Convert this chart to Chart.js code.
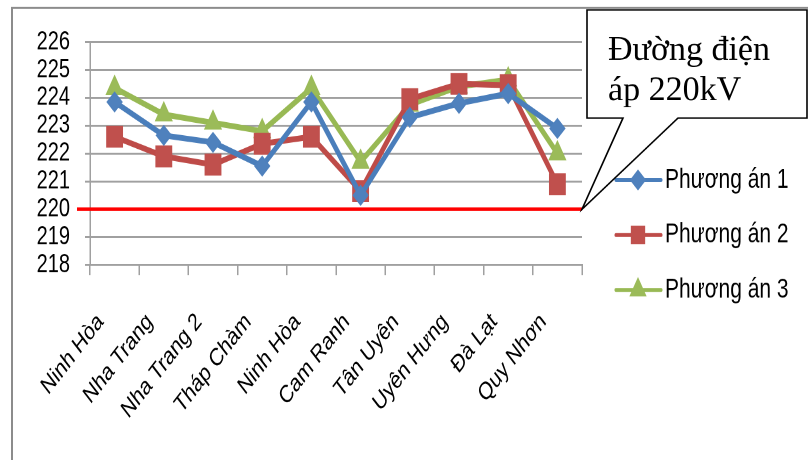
<!DOCTYPE html>
<html>
<head>
<meta charset="utf-8">
<script src="https://cdn.jsdelivr.net/npm/chart.js@4.4.1/dist/chart.umd.min.js"></script>
<style>
  html, body { margin: 0; padding: 0; background: #fff; overflow: hidden; }
  #wrap { width: 808px; height: 460px; position: relative; overflow: hidden; background: #fff; }
  #c { position: absolute; left: 0; top: 0; transform-origin: 0 0; }
</style>
</head>
<body>
<div id="wrap"><canvas id="c" width="808" height="354"></canvas></div>
<script>
// Substations along the line
const stations = ['Ninh Hòa', 'Nha Trang', 'Nha Trang 2', 'Tháp Chàm', 'Ninh Hòa',
                  'Cam Ranh', 'Tân Uyên', 'Uyên Hưng', 'Đà Lạt', 'Quy Nhơn'];

// Bus voltages (kV) for each option
const phuongAn1 = [223.85, 222.65, 222.4, 221.55, 223.85, 220.5, 223.3, 223.8, 224.15, 222.9];
const phuongAn2 = [222.6, 221.9, 221.6, 222.35, 222.6, 220.65, 223.95, 224.5, 224.45, 220.9];
const phuongAn3 = [224.35, 223.4, 223.1, 222.8, 224.35, 221.7, 223.75, 224.4, 224.65, 222.0];

const seriesNames = ['Phương án 1', 'Phương án 2', 'Phương án 3'];

// Nominal voltage line and y axis range
const REF_KV = 220;
const Y_MIN = 218;
const Y_MAX = 226;
const Y_STEP = 1;

// The drawing is rendered slightly compressed and stretched back vertically
const CANVAS_H = 354;
const FULL_H = 460;
const STRETCH = FULL_H / CANVAS_H;

const SANS = '"Liberation Sans", Arial, sans-serif';

// Outer frame of the figure
const framePlugin = {
  id: 'frame',
  beforeDraw(chart) {
    const ctx = chart.ctx;
    ctx.save();
    ctx.scale(1, 1 / STRETCH);
    ctx.strokeStyle = '#8c8c8c';
    ctx.lineWidth = 2;
    ctx.beginPath();
    ctx.moveTo(12, FULL_H + 10);
    ctx.lineTo(12, 8);
    ctx.lineTo(820, 8);
    ctx.stroke();
    ctx.restore();
  }
};

// Red 220 kV reference line
const refLinePlugin = {
  id: 'refLine',
  afterDatasetsDraw(chart) {
    const ctx = chart.ctx;
    const y = chart.scales.y.getPixelForValue(REF_KV);
    ctx.save();
    ctx.strokeStyle = '#ff0000';
    ctx.lineWidth = 2.8;
    ctx.beginPath();
    ctx.moveTo(77, y);
    ctx.lineTo(chart.chartArea.right, y);
    ctx.stroke();
    ctx.restore();
  }
};

// Legend on the right: line segment with marker, then the name
const legendPlugin = {
  id: 'sideLegend',
  afterDraw(chart) {
    const ctx = chart.ctx;
    const rows = [180, 235, 290];
    chart.data.datasets.forEach((ds, i) => {
      const y = rows[i] / STRETCH;
      ctx.save();
      ctx.strokeStyle = ds.borderColor;
      ctx.lineWidth = 3;
      ctx.lineCap = 'round';
      ctx.beginPath();
      ctx.moveTo(616, y);
      ctx.lineTo(661, y);
      ctx.stroke();
      ctx.fillStyle = ds.pointBackgroundColor;
      ctx.strokeStyle = ds.pointBackgroundColor;
      Chart.helpers.drawPoint(ctx, {
        pointStyle: ds.pointStyle,
        rotation: 0,
        radius: ds.legendRadius,
        borderWidth: 1
      }, 638, y);
      ctx.fillStyle = '#000';
      ctx.font = '21px ' + SANS;
      ctx.textAlign = 'left';
      ctx.textBaseline = 'middle';
      ctx.fillText(ds.label, 665, y);
      ctx.restore();
    });
  }
};

// Callout box pointing to the end of the 220 kV line
const calloutPlugin = {
  id: 'callout',
  afterDraw(chart) {
    const ctx = chart.ctx;
    const tipX = chart.chartArea.right;
    const tipY = chart.scales.y.getPixelForValue(REF_KV) * STRETCH;
    ctx.save();
    ctx.scale(1, 1 / STRETCH);
    ctx.beginPath();
    ctx.moveTo(587, 10);
    ctx.lineTo(807, 10);
    ctx.lineTo(807, 118);
    ctx.lineTo(678, 118);
    ctx.lineTo(tipX, tipY);
    ctx.lineTo(623, 118);
    ctx.lineTo(587, 118);
    ctx.closePath();
    ctx.fillStyle = '#fff';
    ctx.fill();
    ctx.strokeStyle = '#000';
    ctx.lineWidth = 1.6;
    ctx.stroke();
    ctx.fillStyle = '#000';
    ctx.font = '34px "Liberation Serif", "Times New Roman", serif';
    ctx.textAlign = 'left';
    ctx.textBaseline = 'alphabetic';
    ctx.fillText('Đường điện', 608, 60);
    ctx.fillText('áp ' + REF_KV + 'kV', 608, 100);
    ctx.restore();
  }
};

const canvas = document.getElementById('c');

new Chart(canvas, {
  type: 'line',
  data: {
    labels: stations,
    datasets: [
      {
        label: seriesNames[0], data: phuongAn1,
        borderColor: '#4A7EBB', pointBackgroundColor: '#4F81BD', pointBorderColor: '#4F81BD',
        pointStyle: 'rectRot', pointRadius: 7.5, pointBorderWidth: 1, legendRadius: 6
      },
      {
        label: seriesNames[1], data: phuongAn2,
        borderColor: '#BE4B48', pointBackgroundColor: '#C0504D', pointBorderColor: '#C0504D',
        pointStyle: 'rect', pointRadius: 10.5, pointBorderWidth: 2, legendRadius: 8
      },
      {
        label: seriesNames[2], data: phuongAn3,
        borderColor: '#98B954', pointBackgroundColor: '#9BBB59', pointBorderColor: '#9BBB59',
        pointStyle: 'triangle', pointRadius: 9.5, pointBorderWidth: 1, legendRadius: 7
      }
    ].map(d => Object.assign({ borderWidth: 4.5, tension: 0, fill: false }, d))
  },
  options: {
    responsive: false,
    animation: false,
    devicePixelRatio: 2,
    layout: { padding: { top: 42 / STRETCH, left: 0, right: 226, bottom: 0 } },
    plugins: {
      legend: { display: false },
      tooltip: { enabled: false }
    },
    scales: {
      x: {
        offset: true,
        grid: { offset: true, drawOnChartArea: false, tickLength: 10 / STRETCH, color: '#a0a0a0', lineWidth: 1.5 },
        border: { color: '#a0a0a0', width: 1.5 },
        ticks: {
          autoSkip: false, minRotation: 45, maxRotation: 45,
          padding: 25, labelOffset: -14,
          color: '#000', font: { family: SANS, size: 19 }
        },
        afterFit(scale) { scale.height = CANVAS_H - 265 / STRETCH; }
      },
      y: {
        min: Y_MIN, max: Y_MAX,
        grid: { color: '#a0a0a0', lineWidth: 1.5, tickLength: 5 },
        border: { color: '#a0a0a0', width: 1.5 },
        ticks: { stepSize: Y_STEP, autoSkip: false, padding: 15, color: '#000', font: { family: SANS, size: 20 } },
        afterFit(scale) { scale.width = 90; }
      }
    }
  },
  plugins: [framePlugin, refLinePlugin, legendPlugin, calloutPlugin]
});

canvas.style.transform = 'scaleY(' + STRETCH + ')';
</script>
</body>
</html>
